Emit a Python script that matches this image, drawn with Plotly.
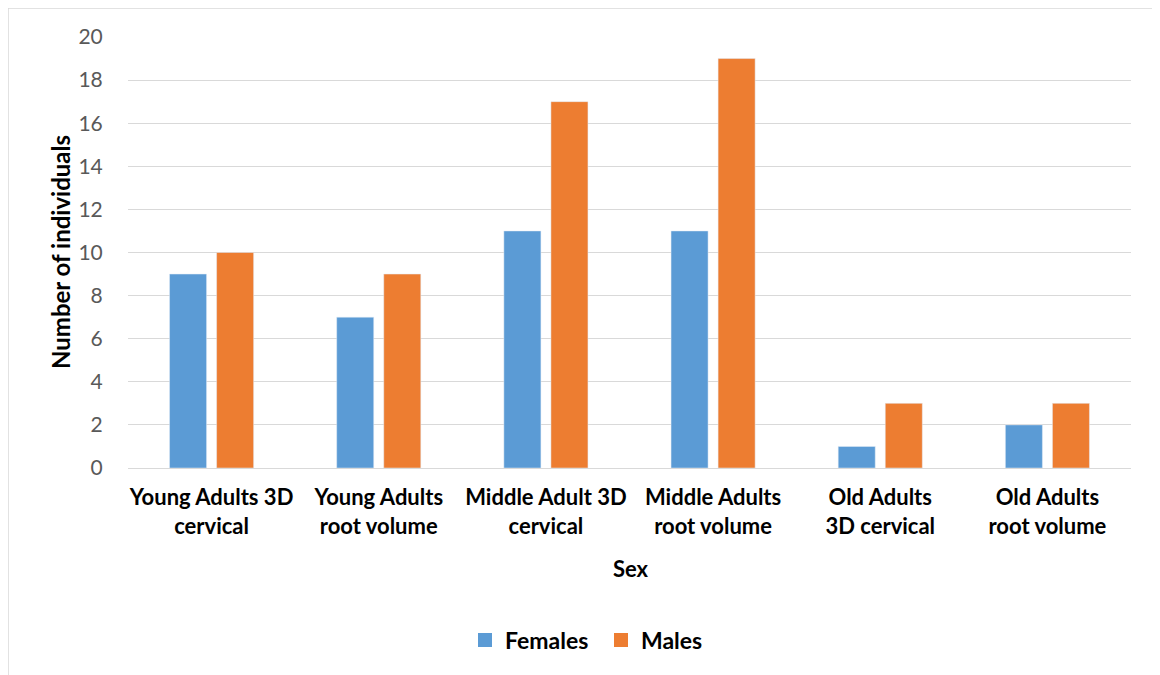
import plotly.graph_objects as go

categories = ["Young Adults 3D<br>cervical", "Young Adults<br>root volume", "Middle Adult 3D<br>cervical",
              "Middle Adults<br>root volume", "Old Adults<br>3D cervical", "Old Adults<br>root volume"]
females = [9, 7, 11, 11, 1, 2]
males = [10, 9, 17, 19, 3, 3]
y_ticks = [0, 2, 4, 6, 8, 10, 12, 14, 16, 18, 20]
series_names = ["Females", "Males"]
colors = ["#5B9BD5", "#ED7D31"]

W, H = 1160, 675
OFF = 8  # page offset of the figure in the screenshot
L, T = 128 - OFF, 37 - OFF
R = W - (1131 - OFF)
B = H - (468 - OFF)
pw, ph = W - L - R, H - T - B

def px(x):
    return (x - OFF - L) / pw

def py(y):
    return (H - B - (y - OFF)) / ph

FONT = "Lato, Calibri, Carlito, sans-serif"

fig = go.Figure()
for name, vals, col in zip(series_names, [females, males], colors):
    fig.add_trace(go.Bar(name=name, x=categories, y=vals, marker_color=col, showlegend=False))
for name, col in zip(series_names, colors):
    fig.add_trace(go.Scatter(name=f"<b>{name}</b>", x=[None], y=[None], mode="markers",
                             marker=dict(symbol="square", size=14, color=col)))

fig.update_layout(
    width=W, height=H,
    margin=dict(l=L, r=R, t=T, b=B),
    paper_bgcolor="white", plot_bgcolor="white",
    barmode="group", bargap=0.437, bargroupgap=0.213,
    font=dict(family=FONT, color="#595959"),
    showlegend=True,
    legend=dict(orientation="h", x=px(465), xanchor="left", y=py(640), yanchor="middle",
                font=dict(size=23, color="black", family=FONT), itemwidth=30,
                entrywidth=91, entrywidthmode="pixels",
                traceorder="normal"),
    shapes=[dict(type="rect", xref="paper", yref="paper",
                 x0=px(8), x1=px(1175), y0=py(690), y1=py(8),
                 line=dict(color="#D9D9D9", width=1.5), fillcolor="rgba(0,0,0,0)", layer="below")],
    annotations=[
        dict(text="<b>Sex</b>", xref="paper", yref="paper", x=px(631), y=py(568),
             showarrow=False, font=dict(size=22, color="black", family=FONT), xanchor="center", yanchor="middle"),
        dict(text="<b>Number of individuals</b>", xref="paper", yref="paper", x=px(60), y=py(252),
             showarrow=False, textangle=-90, font=dict(size=24, color="black", family=FONT),
             xanchor="center", yanchor="middle"),
    ],
)
fig.update_xaxes(
    tickfont=dict(size=22, color="black", family=FONT),
    tickprefix="<b>", ticksuffix="</b>",
    showline=True, linecolor="#D9D9D9", linewidth=1, showgrid=False,
    ticks="outside", ticklen=10, tickcolor="rgba(0,0,0,0)",
)
fig.update_yaxes(
    range=[0, 20], tickvals=y_ticks, tickfont=dict(size=21, color="#595959", family=FONT),
    showgrid=True, gridcolor="#D9D9D9", gridwidth=1, zeroline=False, showline=False,
    ticks="outside", ticklen=20, tickcolor="rgba(0,0,0,0)",
)

fig.write_html("out.html")
